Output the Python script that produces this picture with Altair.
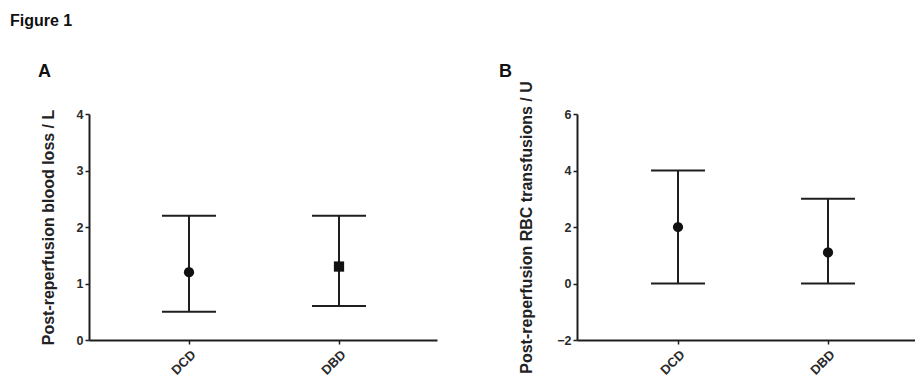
import altair as alt
import pandas as pd

groups = ["DCD", "DBD"]
group_pos = [1, 2]

a_mean = [1.2, 1.3]
a_low = [0.5, 0.6]
a_high = [2.2, 2.2]
a_shape = ["circle", "square"]

b_mean = [2.0, 1.1]
b_low = [0.0, 0.0]
b_high = [4.0, 3.0]
b_shape = ["circle", "circle"]

fig_title = ["Figure 1"]
letters = ["A", "B"]
a_ytitle = "Post-reperfusion blood loss / L"
b_ytitle = "Post-reperfusion RBC transfusions / U"
a_yticks = [0, 1, 2, 3, 4]
b_yticks = [-2, 0, 2, 4, 6]

FONT = "Liberation Sans"
INK = "#1e1e1e"


def panel(mean, low, high, shape, ydomain, yticks, ytitle, xdomain, width,
          title_pad, letter, letter_xy, extra=None):
    df = pd.DataFrame({"group": groups, "pos": group_pos, "mean": mean,
                       "low": low, "high": high, "shape": shape})
    x = alt.X("pos:Q",
              scale=alt.Scale(domain=xdomain, nice=False, zero=False),
              axis=alt.Axis(values=group_pos,
                            labelExpr="datum.value == 1 ? 'DCD' : 'DBD'",
                            labelAngle=-45, title=None, grid=False,
                            tickSize=4, tickWidth=1.5, tickColor=INK,
                            domainWidth=2, domainColor=INK,
                            labelFont=FONT, labelFontWeight="bold",
                            labelFontSize=13, labelColor="#2a2a2a",
                            labelPadding=4))
    yscale = alt.Scale(domain=ydomain, nice=False, zero=False)
    yaxis = alt.Axis(values=yticks, grid=False, title=ytitle, format="d",
                     tickSize=4, tickWidth=1.5, tickColor=INK,
                     domainWidth=2, domainColor=INK,
                     labelFont=FONT, labelFontWeight="bold", labelFontSize=12.5,
                     labelColor="#2a2a2a", labelPadding=2,
                     titleFont=FONT, titleFontWeight="bold", titleFontSize=16,
                     titleColor="#222", titlePadding=title_pad)
    base = alt.Chart(df)
    rule = base.mark_rule(color=INK, strokeWidth=2).encode(
        x=x, y=alt.Y("low:Q", scale=yscale, axis=yaxis), y2="high:Q")
    cap_hi = base.mark_tick(orient="horizontal", size=54, thickness=2,
                            color=INK, opacity=1).encode(x="pos:Q", y="high:Q")
    cap_lo = base.mark_tick(orient="horizontal", size=54, thickness=2,
                            color=INK, opacity=1).encode(x="pos:Q", y="low:Q")
    pts = base.mark_point(filled=True, size=105, color="#111", opacity=1).encode(
        x="pos:Q", y="mean:Q", shape=alt.Shape("shape:N", scale=None))
    lt = alt.Chart(pd.DataFrame({"t": [letter]})).mark_text(
        font=FONT, fontWeight="bold", fontSize=18, align="left",
        baseline="alphabetic", color="#111").encode(
        text="t:N", x=alt.value(letter_xy[0]), y=alt.value(letter_xy[1]))
    layers = [rule, cap_hi, cap_lo, pts, lt]
    if extra is not None:
        layers.append(extra)
    return alt.layer(*layers).properties(width=width, height=226)


fig = alt.Chart(pd.DataFrame({"t": fig_title})).mark_text(
    font=FONT, fontWeight="bold", fontSize=16, align="left",
    baseline="alphabetic", color="#111").encode(
    text="t:N", x=alt.value(-79), y=alt.value(-88))

A = panel(a_mean, a_low, a_high, a_shape, [0, 4], a_yticks, a_ytitle,
          [1 - 100 / 150, 1 - 100 / 150 + 348 / 150], 348, 20,
          letters[0], (-51, -37), fig)
B = panel(b_mean, b_low, b_high, b_shape, [-2, 6], b_yticks, b_ytitle,
          [1 - 101 / 150, 1 - 101 / 150 + 338 / 150], 338, 22,
          letters[1], (-78, -37))

chart = alt.hconcat(A, B, spacing=62).properties(
    padding={"left": 2, "top": 5, "right": 0, "bottom": 0},
    background="white",
).configure_view(stroke=None)

chart.save("out.html", embed_options={"renderer": "svg", "actions": False})
